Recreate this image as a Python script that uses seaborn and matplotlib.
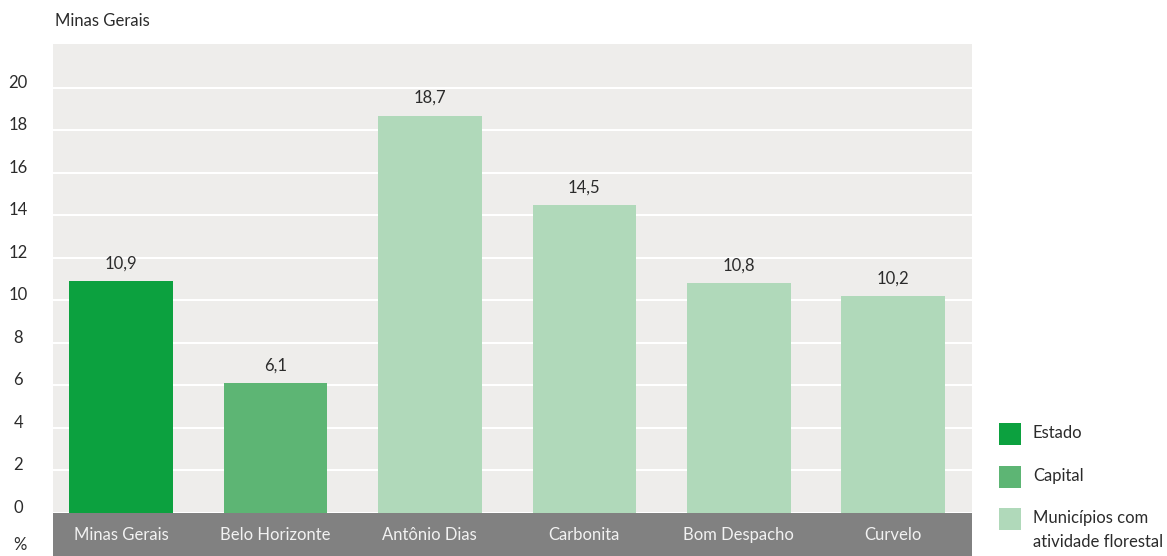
import matplotlib
matplotlib.use("Agg")
import matplotlib.pyplot as plt
import seaborn as sns
from matplotlib.patches import Rectangle

# Data
categories = ["Minas Gerais", "Belo Horizonte", "Antônio Dias", "Carbonita", "Bom Despacho", "Curvelo"]
values = [10.9, 6.1, 18.7, 14.5, 10.8, 10.2]
groups = ["Estado", "Capital", "Municípios", "Municípios", "Municípios", "Municípios"]
legend_labels = ["Estado", "Capital", "Municípios com\natividade florestal"]
group_colors = {"Estado": "#0ca13f", "Capital": "#5db574", "Municípios": "#b0d9ba"}
y_ticks = list(range(0, 21, 2))

sns.set_theme(style="white")
plt.rcParams["font.family"] = ["Lato", "DejaVu Sans"]
text_color = "#2b2b2b"

fig = plt.figure(figsize=(11.67, 5.56), dpi=100)
ax = fig.add_axes([53 / 1167, 43 / 556, 919 / 1167, 469 / 556])
ax.set_facecolor("#eeedeb")

bar_colors = [group_colors[g] for g in groups]
sns.barplot(x=categories, y=values, hue=categories, palette=bar_colors,
            width=0.67, legend=False, ax=ax, zorder=3, saturation=1, linewidth=0)

ax.set_xlim(-0.44, 5.51)
ax.set_ylim(0, 22.07)
ax.set_yticks(y_ticks)
ax.grid(axis="y", color="white", linewidth=1.5, zorder=0)
ax.set_axisbelow(True)
for s in ax.spines.values():
    s.set_visible(False)
ax.set_xlabel("")
ax.set_ylabel("")

# y tick labels
ax.tick_params(axis="y", length=0, pad=25, labelsize=12, labelcolor=text_color)
for lab in ax.get_yticklabels():
    lab.set_horizontalalignment("center")
    lab.set_verticalalignment("baseline")

# gray band with category names
ax.add_patch(Rectangle((0, -43 / 469), 1, 43 / 469, transform=ax.transAxes,
                       facecolor="#818181", edgecolor="none", clip_on=False, zorder=0.1))
ax.tick_params(axis="x", length=0, pad=10, labelsize=12, labelcolor="#f2f2f2")

# value labels
for cont in ax.containers:
    ax.bar_label(cont, labels=[f"{v:.1f}".replace(".", ",") for v in cont.datavalues],
                 padding=7, fontsize=12, color=text_color)

fig.text(55 / 1167, 1 - 21 / 556, "Minas Gerais", fontsize=12, color=text_color,
         ha="left", va="center")
fig.text(20 / 1167, 1 - 545 / 556, "%", fontsize=12, color=text_color,
         ha="center", va="center")

# legend
leg_y = [434, 477, 519]
for lab, g, y in zip(legend_labels, group_colors, leg_y):
    fig.add_artist(Rectangle((999 / 1167, 1 - (y + 11) / 556), 22 / 1167, 22 / 556,
                             transform=fig.transFigure, facecolor=group_colors[g],
                             edgecolor="none"))
    fig.text(1033 / 1167, 1 - (y - 9) / 556, lab, fontsize=12, color=text_color,
             ha="left", va="top", linespacing=1.6)

fig.savefig("out.png", dpi=100)
